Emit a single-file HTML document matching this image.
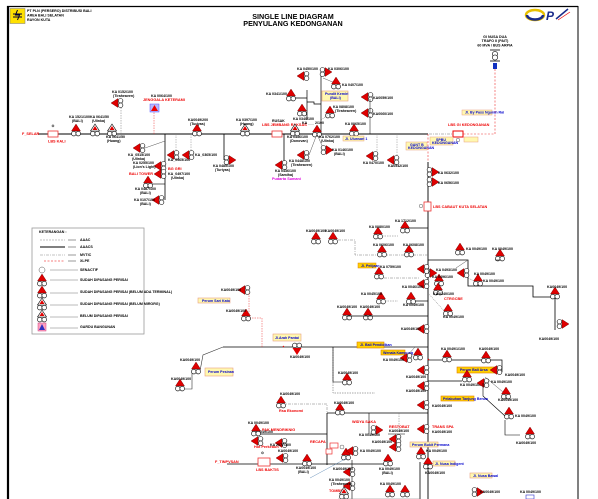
<!DOCTYPE html>
<html><head><meta charset="utf-8"><style>
html,body{margin:0;padding:0;background:#fff;width:598px;height:499px;overflow:hidden}
svg{display:block}
text{font-family:"Liberation Sans",sans-serif;font-weight:bold}
.t{font-size:3.6px;fill:#000}
.r{font-size:3.8px;fill:#e00}
.b{font-size:3.6px;fill:#00c}
.m{font-size:3.8px;fill:#d0d}
</style></head><body>
<svg width="598" height="499" viewBox="0 0 598 499" xmlns="http://www.w3.org/2000/svg">
<defs>
<g id="U"><polygon points="0,-7 4.5,0 -4.5,0" fill="#e00000" stroke="#600" stroke-width="0.4"/><circle cx="-2.2" cy="2.6" r="2.3" fill="#fff" stroke="#000" stroke-width="0.6"/><circle cx="2.2" cy="2.6" r="2.3" fill="#fff" stroke="#000" stroke-width="0.6"/></g>
<g id="O"><polygon points="0,-7 4.5,0 -4.5,0" fill="#fff" stroke="#000" stroke-width="0.6"/><polygon points="0,-5 2.5,-1 -2.5,-1" fill="#e00000"/><circle cx="-2.2" cy="2.6" r="2.3" fill="#fff" stroke="#000" stroke-width="0.6"/><circle cx="2.2" cy="2.6" r="2.3" fill="#fff" stroke="#000" stroke-width="0.6"/></g>
<g id="L"><polygon points="-9,0 -2,-4.5 -2,4.5" fill="#e00000" stroke="#600" stroke-width="0.4"/><circle cx="0.6" cy="-2.2" r="2.3" fill="#fff" stroke="#000" stroke-width="0.6"/><circle cx="0.6" cy="2.2" r="2.3" fill="#fff" stroke="#000" stroke-width="0.6"/></g>
<g id="R"><polygon points="9,0 2,-4.5 2,4.5" fill="#e00000" stroke="#600" stroke-width="0.4"/><circle cx="-0.6" cy="-2.2" r="2.3" fill="#fff" stroke="#000" stroke-width="0.6"/><circle cx="-0.6" cy="2.2" r="2.3" fill="#fff" stroke="#000" stroke-width="0.6"/></g>
<g id="D"><polygon points="0,7 4.5,0 -4.5,0" fill="#e00000"/><circle cx="-2.2" cy="-2.6" r="2.3" fill="#fff" stroke="#000" stroke-width="0.6"/><circle cx="2.2" cy="-2.6" r="2.3" fill="#fff" stroke="#000" stroke-width="0.6"/></g>
</defs>

<!-- frame -->
<line x1="8" y1="6" x2="8" y2="499" stroke="#000" stroke-width="2.2"/>
<line x1="7" y1="6.5" x2="578" y2="6.5" stroke="#000" stroke-width="1.2"/>
<line x1="578" y1="6" x2="578" y2="499" stroke="#000" stroke-width="1"/>

<!-- header -->
<rect x="10" y="8.5" width="15" height="15" fill="#ffe000" stroke="#777" stroke-width="0.5"/>
<path d="M13 14h9M13 17h9M17.5 10l-2 5h4l-2 5" stroke="#003" stroke-width="1" fill="none"/>
<text x="27" y="12" class="t">PT PLN (PERSERO) DISTRIBUSI BALI</text>
<text x="27" y="16.5" class="t">AREA BALI SELATAN</text>
<text x="27" y="21" class="t">RAYON KUTA</text>
<text x="293" y="19" font-size="7.2" text-anchor="middle">SINGLE LINE DIAGRAM</text>
<text x="293" y="26" font-size="7.2" text-anchor="middle">PENYULANG KEDONGANAN</text>
<ellipse cx="535" cy="15" rx="9" ry="5" fill="none" stroke="#e8c000" stroke-width="2.5"/>
<path d="M527 15a8 4.5 0 0 0 16 0" fill="none" stroke="#1a2a8a" stroke-width="2.5"/>
<text x="546" y="20" font-size="12" fill="#1a2a8a" font-style="italic">P</text>
<path d="M556 19l12-10" stroke="#1a2a8a" stroke-width="1.5"/><path d="M558 20l12-8" stroke="#e00" stroke-width="0.7"/>

<!-- top right source -->
<text x="495" y="38" class="t" text-anchor="middle">GI NUSA DUA</text>
<text x="495" y="42" class="t" text-anchor="middle">TRAFO II (PAIT)</text>
<text x="495" y="46.5" class="t" text-anchor="middle">60 MVA / BUS ARPIA</text>
<line x1="490" y1="50" x2="500" y2="50" stroke="#000" stroke-width="0.8"/>
<circle cx="495" cy="54" r="2.6" fill="#fff" stroke="#000" stroke-width="0.6"/><circle cx="495" cy="57.5" r="2.6" fill="#fff" stroke="#000" stroke-width="0.6"/>
<line x1="490" y1="61" x2="500" y2="61" stroke="#000" stroke-width="0.8"/>
<rect x="493" y="63" width="4" height="6" fill="#1030c0"/>
<path d="M495 69V134H462" stroke="#e33" stroke-width="0.6" stroke-dasharray="2,1.5" fill="none"/>
<path d="M462 134H428" stroke="#777" stroke-width="0.6" stroke-dasharray="3,1,1,1" fill="none"/>
<rect x="453" y="131" width="10" height="6" fill="#fff" stroke="#e00" stroke-width="1"/>
<text x="448" y="126" class="r" font-size="3">LBS GI KEDONGANAN</text>
<circle cx="458" cy="140" r="1.8" fill="none" stroke="#555" stroke-width="0.5"/>
<rect x="464" y="137" width="14" height="5" fill="#fff8b0" stroke="#e8a080" stroke-width="0.5"/>
<rect x="462" y="110" width="30" height="5" fill="#fff8b0" stroke="#e8a080" stroke-width="0.5"/>
<text x="465" y="113.5" class="b" font-size="2.6">Jl. By Pass Ngurah Rai</text>

<!-- main top bus -->
<line x1="38" y1="134" x2="428" y2="134" stroke="#000" stroke-width="0.9"/>
<text x="22" y="135" class="r">F_SELAR</text>
<rect x="48" y="131" width="10" height="6" fill="#fff" stroke="#e33" stroke-width="0.8"/>
<text x="53" y="127" class="t" text-anchor="middle">⊙</text>
<text x="48" y="142.5" class="r">LBS KALI</text>
<use href="#U" x="76" y="131"/><text x="69" y="118" class="t">KA 1521/100</text><text x="72" y="122" class="t">(BALI)</text>
<use href="#O" x="95" y="131"/><text x="90" y="118" class="t">KA 0641/50</text><text x="92" y="122" class="t">(Ulinka)</text>
<use href="#O" x="112" y="131"/><text x="106" y="138" class="t">KA 0641/50</text><text x="107" y="142" class="t">(Huang)</text>
<path d="M121 134V100" stroke="#777" stroke-width="0.5" stroke-dasharray="1.5,1"/>
<use href="#L" x="120" y="103"/><text x="112" y="93" class="t">KA 0152/100</text><text x="113" y="97" class="t">(Tiraheaven)</text>
<path d="M154 134V106" stroke="#e33" stroke-width="0.5" stroke-dasharray="1.5,1"/>
<rect x="150" y="104" width="9" height="8" fill="#b8b8ff" stroke="#55f" stroke-width="0.5"/><polygon points="154.5,105 158,111 151,111" fill="#e00"/>
<text x="151" y="97" class="t">KA 0064/100</text><text x="143" y="101" class="r" font-size="3.2">JENGGALA KETERAMI</text>
<!-- branch at 165 -->
<path d="M165 134V200" stroke="#000" stroke-width="0.8"/>
<path d="M165 141L145 148" stroke="#555" stroke-width="0.5"/>
<use href="#L" x="142" y="148"/><text x="128" y="156" class="t">KA_0515/100</text><text x="132" y="160" class="t">(Ulinka)</text>
<use href="#L" x="163" y="166"/><text x="133" y="164" class="t">KA 0255/100</text><text x="133" y="168" class="t">(Lion's Light)</text>
<use href="#L" x="163" y="174"/><text x="168" y="170" class="r">BG GRI</text><text x="168" y="175" class="t">KA_0497/100</text><text x="171" y="179" class="t">(Ulinka)</text>
<text x="129" y="175" class="r">BALI TOWER</text>
<use href="#U" x="148" y="183"/><path d="M152 184H165" stroke="#000" stroke-width="0.6"/><text x="135" y="190" class="t">KA 0487/100</text><text x="140" y="194" class="t">(BALI)</text>
<use href="#L" x="161" y="200"/><text x="134" y="201" class="t">KA 0107/100</text><text x="140" y="205" class="t">(BALI)</text>
<path d="M176 134V155M191 134V155" stroke="#888" stroke-width="0.5" stroke-dasharray="1.5,1"/>
<use href="#L" x="176" y="155"/><text x="168" y="161" class="t">KA_0565/100</text>
<use href="#L" x="191" y="155"/><text x="195" y="156" class="t">KA_0365/100</text>
<use href="#U" x="197" y="131"/><text x="188" y="121" class="t">KA0049/200</text><text x="190" y="125" class="t">(Turiyas)</text>
<path d="M224 134V160" stroke="#000" stroke-width="0.8"/>
<use href="#R" x="227" y="160"/><text x="213" y="167" class="t">KA 0485/100</text><text x="215" y="171" class="t">(Turiyas)</text>
<use href="#O" x="245" y="131"/><text x="236" y="121" class="t">KA 0397/100</text><text x="240" y="125" class="t">(Huang)</text>
<rect x="272" y="131" width="10" height="6" fill="#fff" stroke="#e33" stroke-width="0.8"/>
<text x="272" y="122" class="t">RUSAK</text><text x="262" y="126" class="r" font-size="3.2">LBS JEMBANG RAKSAS</text>
<path d="M284 134V162" stroke="#000" stroke-width="0.8"/>
<use href="#L" x="284" y="165"/><text x="275" y="172" class="t">KA 0436/100</text><text x="278" y="176" class="t">(Samiha)</text><text x="272" y="180" class="m">Pudarta Sumani</text>
<use href="#O" x="295" y="131"/><text x="287" y="138" class="t">KA 0436/100</text><text x="290" y="142" class="t">(Donovan)</text>
<!-- top middle cluster -->
<path d="M307 90V120M295 98H307V102H314V104H321M321 134V72" stroke="#000" stroke-width="0.7" fill="none"/>
<use href="#L" x="306" y="76"/><text x="297" y="70" class="t">KA 0450/100</text>
<use href="#U" x="291" y="96"/><text x="266" y="95" class="t">KA 0341/100</text>
<use href="#U" x="302" y="111"/><text x="293" y="120" class="t">KA 0340/100</text>
<use href="#R" x="323" y="72"/><text x="328" y="70" class="t">KA 0306/100</text>
<path d="M323 78L335 83" stroke="#555" stroke-width="0.5"/>
<use href="#U" x="336" y="84"/><text x="342" y="86" class="t">KA 0407/100</text>
<rect x="322" y="91" width="26" height="10" fill="#fff8b0" stroke="#e8a080" stroke-width="0.6"/><text x="325" y="95" class="b" font-size="2.6">Pundit Kemiri</text><text x="330" y="99" class="b" font-size="2.6">(BALI)</text>
<use href="#U" x="330" y="113"/><text x="333" y="108" class="t">KA 0808/100</text><text x="335" y="112" class="t">(Tiraheaven)</text>
<path d="M321 120L328 115" stroke="#555" stroke-width="0.5" stroke-dasharray="1,1"/>
<use href="#U" x="317" y="132"/><text x="302" y="124" class="t">KA ___ 2/100</text>
<text x="319" y="138" class="t">KA 0762/100</text><text x="321" y="142" class="t">(Ulinka)</text>
<path d="M317 134L309 155M317 134L323 148" stroke="#555" stroke-width="0.5"/>
<use href="#L" x="306" y="155"/><text x="289" y="162" class="t">KA 0448/100</text><text x="291" y="166" class="t">(Tiraheaven)</text>
<use href="#R" x="324" y="150"/><text x="332" y="151" class="t">KA 0146/100</text><text x="334" y="155" class="t">(BALI)</text>
<use href="#L" x="370" y="97"/><text x="373" y="99" class="t">KA0059/100</text>
<use href="#L" x="370" y="113"/><text x="373" y="115" class="t">KA0060/100</text>
<path d="M370 99V113M370 116V134" stroke="#000" stroke-width="0.5"/>
<use href="#U" x="354" y="131"/><text x="345" y="125" class="t">KA 0065/100</text>
<rect x="343" y="136" width="21" height="5" fill="#fff8b0" stroke="#e8a080" stroke-width="0.5"/><text x="345" y="140" class="b" font-size="2.6">Jl. Ulunsari 1</text>
<path d="M377 134V155M397 134V160" stroke="#888" stroke-width="0.5" stroke-dasharray="1.5,1"/>
<use href="#L" x="375" y="156"/><text x="363" y="164" class="t">KA 0470/100</text>
<use href="#L" x="396" y="160"/><text x="388" y="167" class="t">KA0542/100</text>
<rect x="406" y="142" width="21" height="8" fill="#fff8b0" stroke="#e8a080" stroke-width="0.5"/><text x="410" y="146" class="b" font-size="2.6">GANT B</text><text x="408" y="149" class="b" font-size="2.6">KEDONGANAN</text>
<rect x="430" y="137" width="23" height="8" fill="#fff8b0" stroke="#e8a080" stroke-width="0.5"/><text x="436" y="141" class="b" font-size="2.6">SPBU</text><text x="432" y="144" class="b" font-size="2.6">KEDONGANAN</text>

<!-- trunk -->
<path d="M428 134V162" stroke="#e33" stroke-width="0.6" stroke-dasharray="2,1.5"/>
<path d="M428 162V499" stroke="#000" stroke-width="0.9"/>
<use href="#R" x="430" y="172"/><text x="438" y="174" class="t">KA 0632/100</text>
<use href="#R" x="430" y="182"/><text x="438" y="184" class="t">KA 0656/100</text>
<rect x="424" y="202" width="7" height="9" fill="#fff" stroke="#e33" stroke-width="0.8"/><circle cx="421" cy="206" r="1.8" fill="none" stroke="#555" stroke-width="0.5"/>
<text x="433" y="208" class="r" font-size="3.2">LBS CABAUT KUTA SELATAN</text>
<!-- right upper group -->
<path d="M405 228H428" stroke="#000" stroke-width="0.8"/>
<use href="#U" x="405" y="228"/><text x="395" y="222" class="t">KA 1712/100</text>
<use href="#U" x="378" y="234"/><text x="369" y="228" class="t">KA 0080/100</text>
<path d="M382 236H398" stroke="#777" stroke-width="0.5" stroke-dasharray="1.5,1"/>
<use href="#U" x="316" y="239"/><text x="306" y="232" class="t">KA0049/100</text>
<use href="#U" x="333" y="239"/><text x="325" y="232" class="t">KA0049/100</text>
<path d="M338 240H355V255H428" stroke="#777" stroke-width="0.5" stroke-dasharray="3,1,1,1" fill="none"/>
<use href="#U" x="382" y="252"/><text x="373" y="246" class="t">KA 0606/100</text>
<use href="#U" x="409" y="252"/><text x="403" y="246" class="t">KA 0608/100</text>
<rect x="358" y="263" width="18" height="5" fill="#ffd000" stroke="#e08000" stroke-width="0.5"/><text x="361" y="267" class="b" font-size="2.6">Jl. Pelijaan</text>
<use href="#U" x="379" y="274"/><text x="380" y="268" class="t">KA 0759/100</text>
<path d="M384 278H420" stroke="#777" stroke-width="0.5" stroke-dasharray="3,1,1,1"/>
<use href="#R" x="428" y="273"/><text x="436" y="271" class="t">KA 0493/100</text>
<use href="#U" x="439" y="281"/><text x="432" y="278" class="t">KA 0496/100</text>
<use href="#L" x="426" y="284"/><text x="402" y="288" class="t">KA 0046/100</text>
<use href="#U" x="438" y="290"/><text x="433" y="295" class="t">KA 0340/100</text>
<path d="M428 293L446 313" stroke="#555" stroke-width="0.5" stroke-dasharray="1,1"/>
<text x="444" y="300" class="r">CTRGCBE</text>
<use href="#U" x="448" y="311"/><text x="443" y="318" class="t">KA 0049/100</text>
<use href="#U" x="381" y="299"/><text x="361" y="295" class="t">KA 0045/100</text>
<path d="M385 301H398" stroke="#777" stroke-width="0.5" stroke-dasharray="1.5,1"/>
<use href="#U" x="411" y="299"/><path d="M415 301H428" stroke="#000" stroke-width="0.7"/><text x="403" y="306" class="t">KA 0049/100</text>
<use href="#U" x="347" y="315"/><text x="337" y="308" class="t">KA0049/100</text>
<use href="#U" x="368" y="315"/><text x="360" y="308" class="t">KA0049/100</text>
<path d="M347 316H428" stroke="#000" stroke-width="0.7"/>
<use href="#L" x="426" y="329"/><text x="401" y="330" class="t">KA0049/100</text>
<!-- right far group -->
<path d="M428 260H468V286H533V297H555V330" stroke="#000" stroke-width="0.8" fill="none"/>
<path d="M468 260L456 268" stroke="#555" stroke-width="0.5"/>
<use href="#U" x="460" y="250"/><text x="466" y="250" class="t">KA 0049/100</text>
<use href="#U" x="500" y="256"/><text x="492" y="250" class="t">KA 0049/100</text>
<path d="M495 260H500" stroke="#000" stroke-width="0.5"/>
<use href="#L" x="426" y="269"/>
<use href="#L" x="466" y="273"/><text x="474" y="275" class="t">KA 0049/100</text>
<path d="M468 278L478 283" stroke="#555" stroke-width="0.5" stroke-dasharray="1,1"/>
<use href="#U" x="478" y="281"/><text x="483" y="282" class="t">KA 0049/100</text>
<use href="#U" x="555" y="294"/><text x="547" y="288" class="t">KA0049/100</text>
<use href="#R" x="560" y="324"/><text x="539" y="340" class="t">KA0049/100</text>
<!-- middle lower -->
<path d="M343 347H428" stroke="#000" stroke-width="0.8"/>
<rect x="357" y="342" width="27" height="6" fill="#ffd000" stroke="#e08000" stroke-width="0.6"/><text x="360" y="346" class="b" font-size="2.7">Jl. Bali Pendidikan</text>
<rect x="381" y="350" width="24" height="5" fill="#ffd000" stroke="#e08000" stroke-width="0.6"/><text x="383" y="354" class="b" font-size="2.6">Wenala Kampung</text>
<path d="M415 347L407 356" stroke="#555" stroke-width="0.5"/>
<use href="#L" x="409" y="358"/><text x="383" y="361" class="t">KA 0049/100</text>
<use href="#U" x="418" y="355"/>
<path d="M428 360H442" stroke="#000" stroke-width="0.7"/><use href="#U" x="447" y="357"/><text x="441" y="350" class="t">KA 0049/1/100</text>
<path d="M428 360L429 359" stroke="#e00" stroke-width="1"/>
<path d="M452 360H502V372" stroke="#000" stroke-width="0.7" fill="none"/><use href="#U" x="486" y="358"/><text x="479" y="350" class="t">KA0049/100</text>
<use href="#L" x="426" y="370"/><text x="406" y="378" class="t">KA0049/100</text>
<rect x="457" y="367" width="38" height="6" fill="#ffd000" stroke="#e08000" stroke-width="0.6"/><text x="460" y="371" class="b" font-size="2.6">Perum Bali Arsa</text>
<use href="#L" x="499" y="370"/><text x="505" y="376" class="t">KA0049/100</text>
<path d="M428 381H462" stroke="#000" stroke-width="0.7"/><use href="#U" x="467" y="377"/><text x="460" y="386" class="t">KA 0049/100</text>
<use href="#L" x="426" y="386"/><text x="406" y="392" class="t">KA0049/100</text>
<use href="#L" x="486" y="383"/><text x="491" y="383" class="t">KA 0049/100</text>
<path d="M483 383V396L505 416" stroke="#000" stroke-width="0.6" fill="none"/>
<path d="M485 377L503 392" stroke="#555" stroke-width="0.5"/>
<use href="#U" x="506" y="394"/><text x="498" y="401" class="t">KA0049/100</text>
<use href="#U" x="509" y="414"/><text x="515" y="417" class="t">KA 0049/100</text>
<path d="M505 420V435H520" stroke="#000" stroke-width="0.6" fill="none"/>
<use href="#U" x="530" y="434"/><text x="516" y="444" class="t">KA0049/100</text>
<rect x="441" y="396" width="33" height="5" fill="#ffd000" stroke="#e08000" stroke-width="0.6"/><text x="443" y="400" class="b" font-size="2.5">Pelabuhan Tanjung Benoa</text>
<use href="#L" x="426" y="405"/><text x="432" y="407" class="t">KA0049/100</text>
<!-- left lower -->
<path d="M223 347H343" stroke="#000" stroke-width="0.8"/>
<path d="M223 347L203 355L200 371L192 372V389H180" stroke="#333" stroke-width="0.6" fill="none"/>
<rect x="273" y="334" width="28" height="7" fill="#fff8b0" stroke="#e8a080" stroke-width="0.6"/><text x="275" y="339" class="b" font-size="2.6">Jl.Arah Pantai</text>
<use href="#D" x="297" y="348"/><text x="290" y="358" class="t">KA0049/100</text>
<path d="M284 347L283 346" stroke="#e00" stroke-width="1"/>
<path d="M262 318V347" stroke="#e33" stroke-width="0.5" stroke-dasharray="1.5,1"/>
<path d="M247 318H262" stroke="#e33" stroke-width="0.5" stroke-dasharray="1.5,1"/>
<use href="#U" x="246" y="316"/><text x="226" y="312" class="t">KA0049/100</text>
<use href="#L" x="247" y="290"/><text x="221" y="291" class="t">KA0049/100</text>
<path d="M249 293V316" stroke="#e33" stroke-width="0.5" stroke-dasharray="1.5,1"/>
<rect x="198" y="298" width="32" height="5" fill="#fff8b0" stroke="#e8a080" stroke-width="0.6"/><text x="202" y="302" class="b" font-size="2.6">Perum Sari Kato</text>
<use href="#U" x="196" y="369"/><text x="180" y="361" class="t">KA0049/100</text>
<use href="#U" x="180" y="386"/><text x="171" y="380" class="t">KA0049/100</text>
<rect x="205" y="368" width="28" height="8" fill="#fff8b0" stroke="#e8a080" stroke-width="0.6"/><text x="208" y="373" class="b" font-size="2.6">Perum Pesinan</text>
<path d="M333 347V393H375" stroke="#555" stroke-width="0.5" stroke-dasharray="1.5,1" fill="none"/><path d="M333 347V382H348" stroke="#000" stroke-width="0.6" fill="none"/>
<use href="#U" x="347" y="380"/><text x="338" y="374" class="t">KA0049/100</text>
<!-- bottom section -->
<path d="M327 413H428M327 413V465M257 434H327M227 464H390M420 462V499" stroke="#000" stroke-width="0.8" fill="none"/>
<path d="M282 404H327V413" stroke="#777" stroke-width="0.5" stroke-dasharray="3,1,1,1" fill="none"/>
<use href="#U" x="281" y="403"/><text x="280" y="395" class="t">KA0049/100</text><text x="279" y="412" class="r">Rsa Ekonomi</text>
<use href="#U" x="340" y="410"/><text x="334" y="404" class="t">KA0049/100</text>
<path d="M369 413V434" stroke="#000" stroke-width="0.6"/>
<text x="352" y="423" class="r">WIDYA SAKA</text>
<use href="#R" x="374" y="430"/><text x="359" y="436" class="t">KA 0049/100</text>
<path d="M399 413V433" stroke="#777" stroke-width="0.5" stroke-dasharray="1.5,1"/>
<text x="389" y="428" class="r">RESTOBAT</text><text x="389" y="432" class="t">KA0049/100</text>
<path d="M388 434H405" stroke="#000" stroke-width="0.5"/>
<use href="#L" x="398" y="439"/><use href="#L" x="398" y="447"/><text x="372" y="443" class="t">KA0049/100</text>
<use href="#L" x="426" y="429"/><text x="432" y="428" class="r">TRANS SPA</text><text x="432" y="433" class="t">KA0049/100</text>
<use href="#L" x="260" y="441"/><text x="252" y="433" class="t">KA 0049/100</text><text x="254" y="448" class="r">Hot Perkebuh</text>
<use href="#U" x="256" y="431"/><text x="248" y="424" class="t">KA 0049/100</text><text x="262" y="431" class="r">PAK MENDRIKNIG</text>
<use href="#L" x="284" y="443"/><text x="270" y="446" class="t">KA 2077/100</text>
<text x="310" y="443" class="r">RECAPA</text>
<rect x="330" y="443" width="8" height="5" fill="#fff" stroke="#e33" stroke-width="0.7"/><rect x="326" y="449" width="6" height="5" fill="#fff" stroke="#e33" stroke-width="0.7"/>
<circle cx="342" cy="447" r="2" fill="none" stroke="#555" stroke-width="0.5"/>
<use href="#U" x="346" y="455"/><use href="#L" x="355" y="451"/><text x="360" y="452" class="t">KA 0049/100</text>
<path d="M347 458L310 478" stroke="#47a" stroke-width="0.4"/>
<use href="#L" x="285" y="458"/><text x="278" y="452" class="t">KA0049/100</text>
<text x="215" y="463" class="r">F_TINPVSAN</text>
<rect x="258" y="458" width="12" height="8" fill="#fff" stroke="#e33" stroke-width="0.8"/><text x="261" y="454" class="t">⊙</text><text x="256" y="471" class="r">LBS BAKTIS</text>
<use href="#U" x="307" y="461"/><text x="296" y="469" class="t">KA0049/100</text><text x="298" y="473" class="t">(BALI)</text>
<use href="#U" x="388" y="461"/><text x="379" y="470" class="t">KA 0049/100</text><text x="382" y="474" class="t">(BALI)</text>
<path d="M352 460V499" stroke="#000" stroke-width="0.6"/>
<use href="#L" x="352" y="472"/><text x="333" y="470" class="t">KA0049/100</text>
<use href="#L" x="352" y="486"/><text x="329" y="481" class="t">KA 0049/100</text><text x="331" y="485" class="t">(Tiraheaven)</text>
<text x="329" y="492" class="r">TOMBS</text><use href="#O" x="344" y="494"/>
<use href="#U" x="390" y="492"/><use href="#U" x="405" y="492"/><text x="380" y="485" class="t">KA 0049/100</text>
<path d="M338 499H420" stroke="#777" stroke-width="0.5"/>
<rect x="410" y="442" width="28" height="5" fill="#fff8b0" stroke="#e8a080" stroke-width="0.6"/><text x="412" y="446" class="b" font-size="2.6">Perum Bukit Permana</text>
<use href="#U" x="421" y="454"/><text x="426" y="452" class="t">KA 0049/100</text>
<use href="#U" x="428" y="464"/><text x="425" y="474" class="t">KA0049/100</text>
<rect x="433" y="461" width="22" height="5" fill="#fff8b0" stroke="#e8a080" stroke-width="0.6"/><text x="435" y="465" class="b" font-size="2.6">Jl. Nusa Indigent</text>
<rect x="470" y="473" width="22" height="5" fill="#fff8b0" stroke="#e8a080" stroke-width="0.6"/><text x="473" y="477" class="b" font-size="2.6">Jl. Nusa Bawal</text>
<use href="#R" x="475" y="492"/><text x="480" y="493" class="t">KA0049/100</text>
<text x="520" y="493" class="t">KA 0049/100</text><rect x="526" y="495" width="8" height="4" fill="none" stroke="#33c" stroke-width="0.6"/>

<!-- legend -->
<rect x="32" y="228" width="112" height="106" fill="#fff" stroke="#999" stroke-width="0.8"/>
<text x="39" y="233" class="t">KETERANGAN :</text>
<path d="M40 240H65" stroke="#888" stroke-width="0.6" stroke-dasharray="2,1"/><path d="M68 240H76" stroke="#000" stroke-width="0.4"/><text x="80" y="241" class="t">AAAC</text>
<path d="M40 247H65" stroke="#000" stroke-width="0.9"/><path d="M68 247H76" stroke="#000" stroke-width="0.4"/><text x="80" y="248" class="t">AAACS</text>
<path d="M40 255H65" stroke="#888" stroke-width="0.6" stroke-dasharray="3,1,1,1"/><path d="M68 255H76" stroke="#000" stroke-width="0.4"/><text x="80" y="256" class="t">MVTIC</text>
<path d="M44 261H65" stroke="#e00" stroke-width="0.6" stroke-dasharray="2,1.5"/><path d="M68 261H76" stroke="#000" stroke-width="0.4"/><text x="80" y="262" class="t">XLPE</text>
<circle cx="42" cy="270" r="3" fill="none" stroke="#555" stroke-width="0.5"/><path d="M50 270H78" stroke="#777" stroke-width="0.5"/><text x="80" y="271" class="t">SENACTIF</text>
<use href="#U" x="42" y="281"/><path d="M50 280H78" stroke="#777" stroke-width="0.5"/><text x="80" y="281" class="t">SUDAH DIPASANG PERISAI</text>
<use href="#U" x="42" y="293"/><path d="M50 293H78" stroke="#777" stroke-width="0.5"/><text x="80" y="293" class="t" font-size="2.4">SUDAH DIPASANG PERISAI (BELUM ADA TERMINAL)</text>
<use href="#O" x="42" y="305"/><path d="M50 305H78" stroke="#777" stroke-width="0.5"/><text x="80" y="305" class="t" font-size="2.4">SUDAH DIPASANG PERISAI (BELUM MIRORG)</text>
<use href="#O" x="42" y="317"/><path d="M50 317H78" stroke="#777" stroke-width="0.5"/><text x="80" y="317" class="t">BELUM DIPASANG PERISAI</text>
<rect x="38" y="323" width="8" height="8" fill="#ffa0c0" stroke="#d04080" stroke-width="0.5"/><polygon points="42,324 45,330 39,330" fill="#3030c0"/><path d="M50 328H78" stroke="#777" stroke-width="0.5"/><text x="80" y="328" class="t">GARDU BANGUNAN</text>
</svg>
</body></html>
